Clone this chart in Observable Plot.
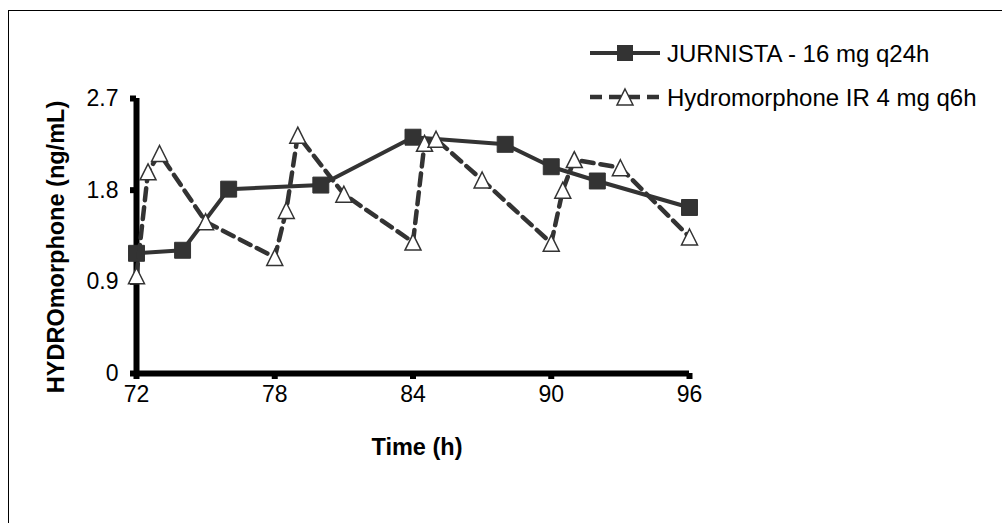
<!DOCTYPE html>
<html>
<head>
<meta charset="utf-8">
<script src="https://cdn.jsdelivr.net/npm/d3@7"></script>
<script src="https://cdn.jsdelivr.net/npm/@observablehq/plot@0.6"></script>
<style>
  html, body { margin: 0; padding: 0; background: #fff; }
  #wrap { position: relative; width: 1002px; height: 523px; overflow: hidden; font-family: "Liberation Sans", Arial, sans-serif; }
  #frame { position: absolute; left: 8px; top: 10px; width: 1100px; height: 600px; border-left: 1.5px solid #000; border-top: 1.5px solid #000; pointer-events: none; }
  #legend { position: absolute; left: 0; top: 0; pointer-events: none; }
</style>
</head>
<body>
<div id="wrap"><div id="frame"></div></div>
<script>
// ---- data ----
const xTicks = [72, 78, 84, 90, 96];
const yTicks = [0, 0.9, 1.8, 2.7];
const seriesNames = ["JURNISTA - 16 mg q24h", "Hydromorphone IR 4 mg q6h"];
const jurnistaTime = [72, 74, 76, 80, 84, 88, 90, 92, 96];
const jurnistaConc = [1.18, 1.21, 1.81, 1.85, 2.32, 2.25, 2.03, 1.89, 1.63];
const hydroTime = [72, 72.5, 73, 75, 78, 78.5, 79, 81, 84, 84.5, 85, 87, 90, 90.5, 91, 93, 96];
const hydroConc = [0.96, 1.98, 2.16, 1.49, 1.14, 1.60, 2.34, 1.76, 1.29, 2.26, 2.30, 1.90, 1.28, 1.80, 2.10, 2.02, 1.34];
const xTitle = "Time (h)";
const yTitle = "HYDROmorphone (ng/mL)";

const jurnista = jurnistaTime.map((t, i) => ({t, c: jurnistaConc[i]}));
const hydro = hydroTime.map((t, i) => ({t, c: hydroConc[i]}));

const font = "'Liberation Sans', Arial, sans-serif";
const gray = "#333333";
const dash = "12,7";

// tall triangle symbol (Excel-like), apex up, centred
const triSymbol = {
  draw(ctx, size) {
    const w = 16, h = 16;
    ctx.moveTo(0, -h / 2);
    ctx.lineTo(w / 2, h / 2);
    ctx.lineTo(-w / 2, h / 2);
    ctx.closePath();
  }
};

const chart = Plot.plot({
  width: 1002,
  height: 523,
  marginLeft: 136,
  marginRight: 313,
  marginTop: 98,
  marginBottom: 150,
  style: { fontFamily: font, fontSize: "23px", color: "#000", background: "transparent", overflow: "visible" },
  x: { domain: [72, 96] },
  y: { domain: [0, 2.7] },
  marks: [
    Plot.axisX({ ticks: xTicks, tickSize: 6, tickPadding: 6, strokeWidth: 6, stroke: "#000", label: null, fontSize: 23 }),
    Plot.axisY({ ticks: yTicks, tickSize: 6, tickPadding: 12, strokeWidth: 6, stroke: "#000", label: null, fontSize: 23, tickFormat: d => String(d) }),
    Plot.ruleX([72], { stroke: "#000", strokeWidth: 6 }),
    Plot.ruleY([0], { stroke: "#000", strokeWidth: 6 }),
    Plot.line(jurnista, { x: "t", y: "c", stroke: gray, strokeWidth: 4 }),
    Plot.dot(jurnista, { x: "t", y: "c", symbol: "square", r: 9, fill: gray, stroke: gray, strokeWidth: 1 }),
    Plot.line(hydro, { x: "t", y: "c", stroke: gray, strokeWidth: 4.5, strokeDasharray: dash }),
    Plot.dot(hydro, { x: "t", y: "c", symbol: triSymbol, fill: "#fff", stroke: gray, strokeWidth: 1.5 }),
    Plot.text([xTitle], { frameAnchor: "bottom", dx: 4, dy: 74, lineAnchor: "middle", textAnchor: "middle", fontWeight: "bold", fontSize: 23.5, fill: "#000" }),
    Plot.text([yTitle], { frameAnchor: "left", dx: -80, dy: 11, rotate: -90, lineAnchor: "middle", textAnchor: "middle", fontWeight: "bold", fontSize: 23.5, fill: "#000" })
  ]
});
document.getElementById("wrap").insertBefore(chart, document.getElementById("frame"));
chart.style.position = "absolute";
chart.style.left = "0px";
chart.style.top = "0px";

// ---- legend overlay ----
const leg = d3.select("#wrap").append("svg").attr("id", "legend")
  .attr("width", 1002).attr("height", 523);
const rows = [
  { name: seriesNames[0], y: 53, dash: null, marker: "square" },
  { name: seriesNames[1], y: 97, dash: dash, marker: "tri" }
];
rows.forEach(r => {
  const g = leg.append("g");
  g.append("line").attr("x1", 590).attr("x2", 660).attr("y1", r.y).attr("y2", r.y)
    .attr("stroke", gray).attr("stroke-width", r.dash ? 4.5 : 4)
    .attr("stroke-dasharray", r.dash);
  if (r.marker === "square") {
    g.append("rect").attr("x", 625 - 8).attr("y", r.y - 8).attr("width", 16).attr("height", 16)
      .attr("fill", gray);
  } else {
    g.append("path").attr("d", `M625,${r.y - 8}L633,${r.y + 8}L617,${r.y + 8}Z`)
      .attr("fill", "#fff").attr("stroke", gray).attr("stroke-width", 1.5);
  }
  g.append("text").attr("x", 667).attr("y", r.y).attr("dy", "0.36em")
    .attr("font-family", font).attr("font-size", 24).attr("fill", "#000").text(r.name);
});
</script>
</body>
</html>
